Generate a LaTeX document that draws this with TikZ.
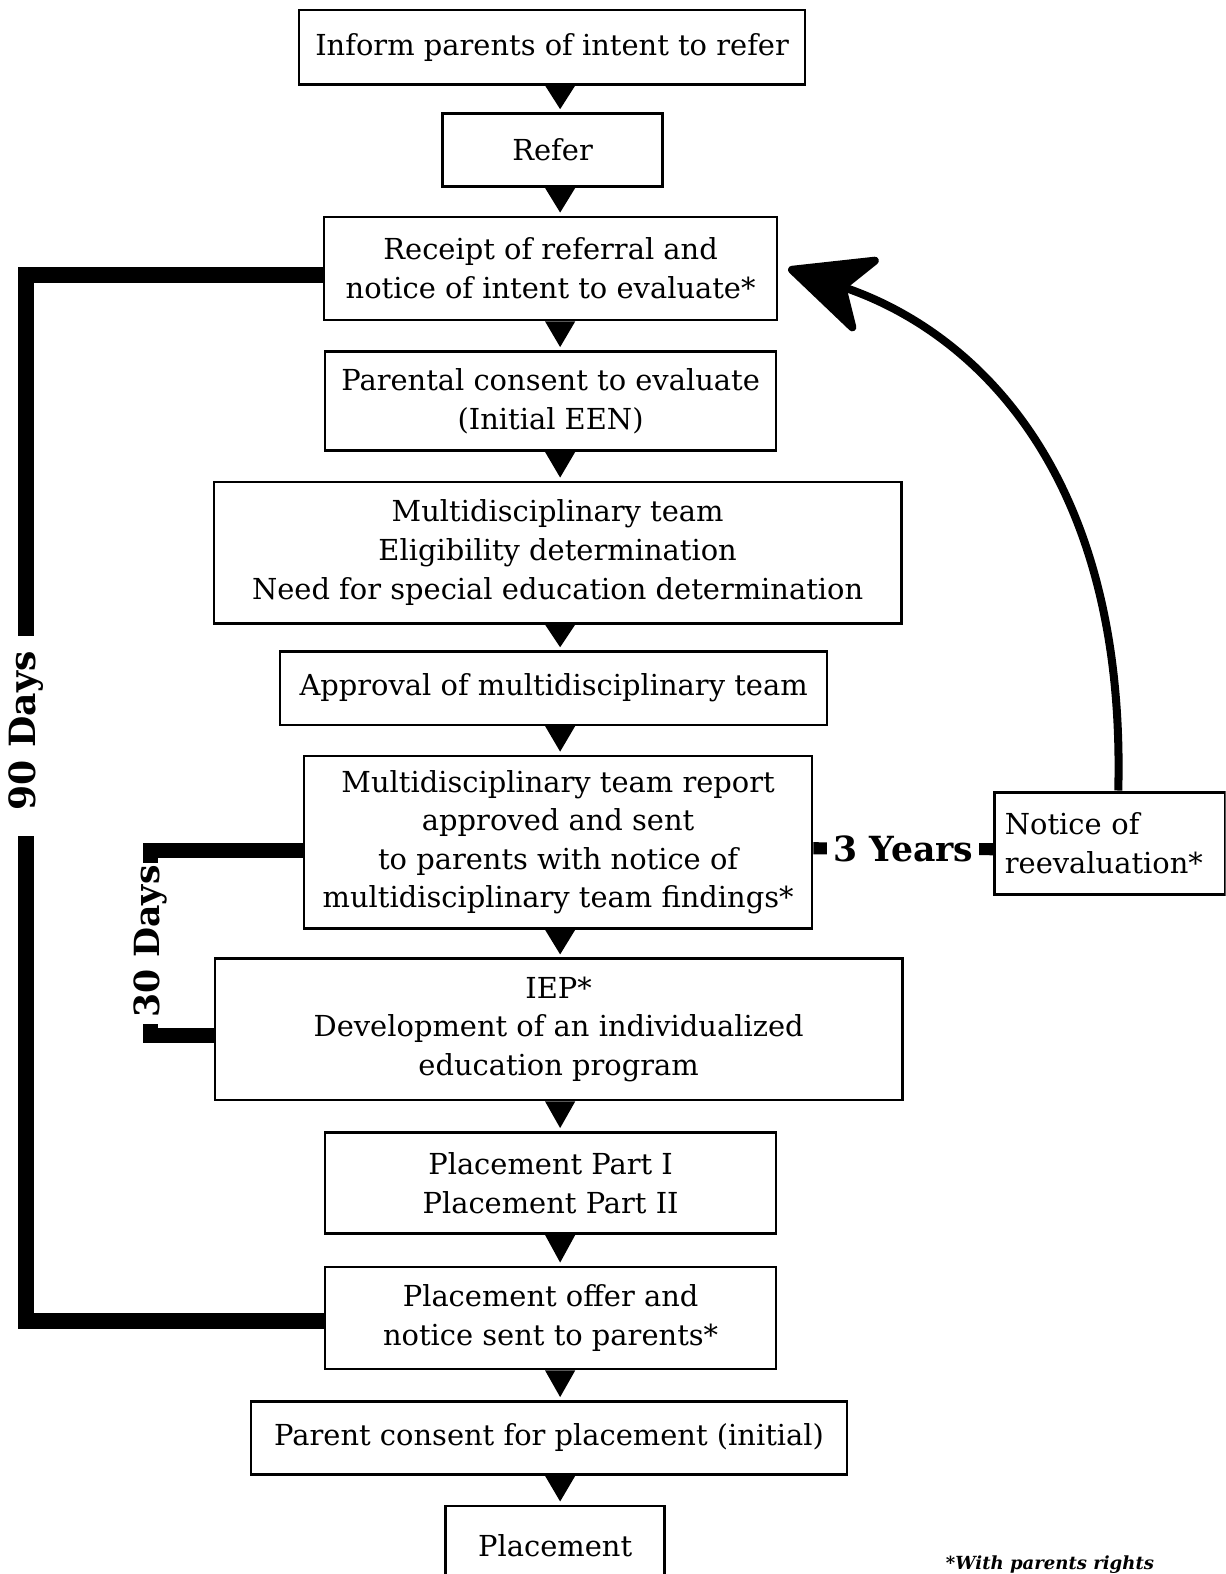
\documentclass[tikz,border=0pt]{standalone}
\usepackage{fontspec}
\setmainfont{DejaVu Serif}
\usetikzlibrary{arrows.meta,calc}
\begin{document}
\begin{tikzpicture}[x=1pt,y=-1pt,
  box/.style={draw, line width=2.5pt, align=center, inner sep=0pt,
    font=\fontsize{28.8}{38.5}\selectfont},
  bar/.style={line width=16pt, line join=miter, line cap=butt},
  lab/.style={font=\fontsize{34.5}{40}\selectfont\bfseries, inner sep=0pt}]
\useasboundingbox (0,0) rectangle (1221,1568);
\clip (0,0) rectangle (1221,1568);
\fill[white] (0,0) rectangle (1221,1568);
\coordinate (tcol) at (558,0);
% boxes
\node[box, minimum width=504pt, minimum height=74pt] (inform) at (550,47) {Inform parents of intent to refer};
\node[box, minimum width=219pt, minimum height=73pt] (refer) at (550.5,149.5) {Refer};
\node[box, minimum width=451pt, minimum height=103pt] (receipt) at (548.5,267.5) {Receipt of referral and\\notice of intent to evaluate*};
\node[box, minimum width=449pt, minimum height=99pt] (consent) at (548.5,399.5) {Parental consent to evaluate\\(Initial EEN)};
\node[box, minimum width=685pt, minimum height=141pt] (mdt) at (555.5,550.5) {Multidisciplinary team\\Eligibility determination\\Need for special education determination};
\node[box, minimum width=545pt, minimum height=73pt] (approval) at (551.5,685.5) {Approval of multidisciplinary team};
\node[box, minimum width=506pt, minimum height=172pt] (report) at (556,839) {Multidisciplinary team report\\approved and sent\\to parents with notice of\\multidisciplinary team findings*};
\node[box, minimum width=685pt, minimum height=141pt] (iep) at (556.5,1025.5) {IEP*\\Development of an individualized\\education program};
\node[box, minimum width=449pt, minimum height=101pt] (partone) at (548.5,1178.5) {Placement Part I\\Placement Part II};
\node[box, minimum width=449pt, minimum height=102pt] (offer) at (548.5,1313) {Placement offer and\\notice sent to parents*};
\node[box, minimum width=594pt, minimum height=73pt] (pconsent) at (547,1432.5) {Parent consent for placement (initial)};
\node[box, minimum width=218pt, minimum height=80pt] (place) at (553,1540) {Placement};
\node[box, line width=3pt, minimum width=230pt, minimum height=102pt, text width=210pt, align=left] (notice) at (1106,840) {Notice of\\reevaluation*};
% small triangle arrows
\newcommand\tridown[2]{\fill ($(#1.south -| tcol)+(-15,0)$) -- ($(#1.south -| tcol)+(15,0)$) -- ([yshift=3pt]#2.north -| tcol) -- cycle;}
\tridown{inform}{refer}
\tridown{refer}{receipt}
\tridown{receipt}{consent}
\tridown{consent}{mdt}
\tridown{mdt}{approval}
\tridown{approval}{report}
\tridown{report}{iep}
\tridown{iep}{partone}
\tridown{partone}{offer}
\tridown{offer}{pconsent}
\tridown{pconsent}{place}
% 90 days bracket
\coordinate (d90a) at (26,634);
\coordinate (d90b) at (26,833);
\draw[bar] ([yshift=-6pt]receipt.west) -| (d90a);
\draw[bar] ([yshift=-3pt]offer.west) -| (d90b);
\node[lab, rotate=90, font=\fontsize{36}{40}\selectfont\bfseries] (l90) at (26,728) {90 Days};
% 30 days bracket
\coordinate (d30a) at (150,860);
\coordinate (d30b) at (150,1020);
\draw[bar, line width=15pt] ([yshift=-8pt]report.west) -| (d30a);
\draw[bar, line width=15pt] ([yshift=-6pt]iep.west) -| (d30b);
\node[lab, rotate=90] (l30) at (150,938) {30 Days};
% 3 years
\draw[line width=12pt] ([yshift=-6pt]report.east) -- node[lab, fill=white, inner xsep=6pt, inner ysep=4pt] (yrs) {3 Years} ([yshift=-6pt]notice.west);
% curved arrow
\draw[line width=8pt, -{Stealth[length=95pt, width=88pt, inset=28pt, round]}] ([xshift=8pt]notice.north) .. controls (1122,470) and (970,330) .. ([xshift=10pt]receipt.east);
% footnote
\node[font=\fontsize{18}{24}\selectfont\bfseries\itshape, anchor=base, inner sep=0pt] (foot) at (1046,1563) {*With parents rights};
\end{tikzpicture}
\end{document}
